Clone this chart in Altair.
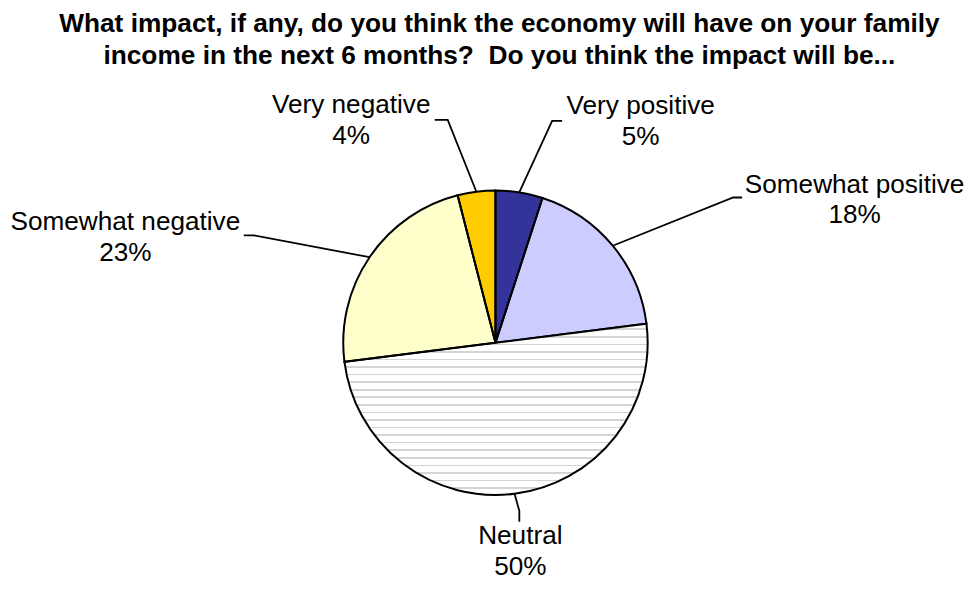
import math
import altair as alt
import pandas as pd

# ---------------- data ----------------
categories = ["Very positive", "Somewhat positive", "Neutral", "Somewhat negative", "Very negative"]
values = [5, 18, 50, 23, 4]
colors = ["#333399", "#CCCCFF", "#FFFFFF", "#FFFFCC", "#FFCC00"]

title_lines = [
    "What impact, if any, do you think the economy will have on your family",
    "income in the next 6 months? \u00a0Do you think the impact will be...",
]

# ---------------- layout (page pixel coordinates) ----------------
PAD_TOP = 63
W, H = 962, 513
X0, Y0 = 8, 8 + PAD_TOP
CX, CY, R = 498, 343, 153          # pie centre / radius on the page
FONT = "Liberation Sans"

label_pos = {
    "Very positive": (644, 113),
    "Somewhat positive": (859, 192),
    "Neutral": (523, 545),
    "Somewhat negative": (126, 230),
    "Very negative": (353, 112),
}
leader_bends = {
    "Very positive": [(555, 120), (565, 120)],
    "Somewhat positive": [(737, 197), (746, 197)],
    "Neutral": [(522, 512), (522, 523)],
    "Somewhat negative": [(255, 235), (245, 235)],
    "Very negative": [(450, 119), (437, 119)],
}


def px(x):
    return x - X0


def py(y):
    return y - Y0


total = sum(values)
df = pd.DataFrame({"category": categories, "value": values, "ord": list(range(len(values)))})

# label table
lab_rows = []
for c, v in zip(categories, values):
    x, y = label_pos[c]
    lab_rows.append({"category": c, "text": f"{c}\n{v}%", "x": px(x), "y": py(y)})
lab_df = pd.DataFrame(lab_rows)

# leader lines: start at slice mid-angle on the rim
lead_rows = []
cum = 0
for c, v in zip(categories, values):
    th = 2 * math.pi * (cum + v / 2) / total
    cum += v
    pts = [(CX + R * math.sin(th), CY - R * math.cos(th))] + leader_bends[c]
    for i, (x, y) in enumerate(pts):
        lead_rows.append({"category": c, "seq": i, "x": px(x), "y": py(y)})
lead_df = pd.DataFrame(lead_rows)

# striped (dashed-look) fill for the Neutral slice via a hard-stop gradient
ni = categories.index("Neutral")
a1 = 2 * math.pi * sum(values[:ni]) / total
a2 = 2 * math.pi * sum(values[: ni + 1]) / total
ymin = min(CY - R * math.cos(a1), CY - R * math.cos(a2), CY)
ymax = CY + R
hh = ymax - ymin
stripe = "#d4d4d4"
stops = [alt.GradientStop(offset=0, color="#ffffff")]
k = -1
half = 0.8 / hh
while True:
    c = 337 + 7.6 * k
    k += 1
    if c < ymin + 1:
        continue
    if c > ymax - 1:
        break
    o = (c - ymin) / hh
    stops += [
        alt.GradientStop(offset=o - half, color="#ffffff"),
        alt.GradientStop(offset=o - half, color=stripe),
        alt.GradientStop(offset=o + half, color=stripe),
        alt.GradientStop(offset=o + half, color="#ffffff"),
    ]
stops.append(alt.GradientStop(offset=1, color="#ffffff"))
grad = alt.Gradient(gradient="linear", stops=stops, x1=0, x2=0, y1=0, y2=1)

base = alt.Chart(df).encode(
    theta=alt.Theta("value:Q", stack=True),
    order=alt.Order("ord:Q"),
)

fills = base.mark_arc(outerRadius=R).encode(
    x=alt.value(px(CX)),
    y=alt.value(py(CY)),
    color=alt.Color("category:N", scale=alt.Scale(domain=categories, range=colors), legend=None),
)

stripes = base.mark_arc(outerRadius=R, fill=grad, stroke="black", strokeWidth=2).encode(
    x=alt.value(px(CX)),
    y=alt.value(py(CY)),
    fillOpacity=alt.condition(alt.datum.category == "Neutral", alt.value(1), alt.value(0)),
)

leaders = alt.Chart(lead_df).mark_line(color="black", strokeWidth=1.8).encode(
    x=alt.X("x:Q", scale=None, axis=None),
    y=alt.Y("y:Q", scale=None, axis=None),
    detail="category:N",
    order=alt.Order("seq:Q"),
)

labels = alt.Chart(lab_df).mark_text(
    font=FONT, fontSize=26.3, color="black", align="center", baseline="alphabetic",
    lineBreak="\n", lineHeight=31,
).encode(
    x=alt.X("x:Q", scale=None, axis=None),
    y=alt.Y("y:Q", scale=None, axis=None),
    text="text:N",
)

chart = alt.layer(fills, stripes, leaders, labels).properties(
    width=W,
    height=H,
    padding={"top": PAD_TOP, "left": 0, "right": 0, "bottom": 0},
    autosize="none",
    title=alt.TitleParams(
        text=title_lines, font=FONT, fontSize=26.4, fontWeight="bold", color="black",
        lineHeight=32, anchor="middle", frame="group", offset=3, dx=13,
    ),
).configure_view(stroke=None)

chart.save("out.html", embed_options={"renderer": "svg", "actions": False})
